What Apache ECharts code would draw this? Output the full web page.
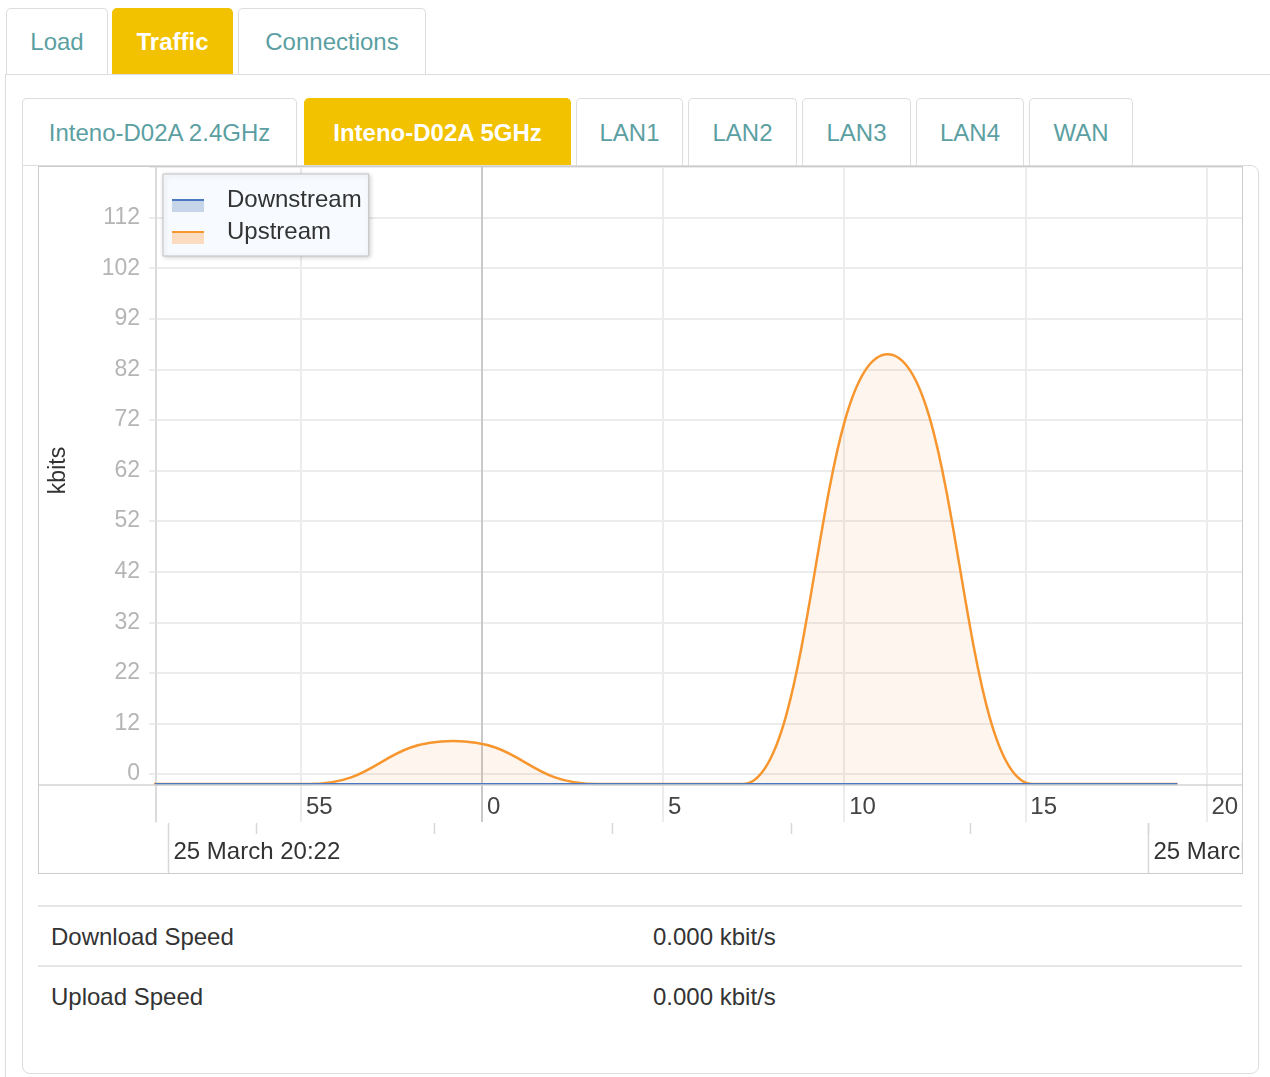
<!DOCTYPE html>
<html>
<head>
<meta charset="utf-8">
<title>Traffic</title>
<script src="https://cdn.jsdelivr.net/npm/echarts@6.0.0/dist/echarts.min.js"></script>
<style>
  body {
    margin: 0;
    width: 1270px;
    height: 1077px;
    position: relative;
    overflow: hidden;
    background: #fff;
    font-family: "Liberation Sans", Arial, Helvetica, sans-serif;
    color: #333;
  }
  .tab {
    position: absolute;
    box-sizing: border-box;
    border: 1px solid #dddddd;
    border-bottom: none;
    border-radius: 5px 5px 0 0;
    background: #fff;
    color: #5b9fa2;
    font-size: 24px;
    text-align: center;
  }
  .tab.on {
    background: #f2c200;
    border-color: #f2c200;
    color: #fff;
    font-weight: bold;
  }
  .top { top: 8px; height: 66px; line-height: 66px; }
  .sub { top: 98px; height: 67px; line-height: 68px; }
  .hline { position: absolute; height: 0; border-top: 1px solid #dddddd; }
  .vline { position: absolute; width: 0; border-left: 1px solid #dddddd; }
  .panel {
    position: absolute;
    left: 22px; top: 165px;
    width: 1235px; height: 907px;
    border: 1px solid #dddddd;
    border-radius: 0 8px 8px 8px;
  }
  .chartbox {
    position: absolute;
    left: 38px; top: 166px;
    width: 1203px; height: 706px;
    border: 1px solid #cccccc;
    background: #fff;
  }
  #main { width: 1203px; height: 706px; }
  .row {
    position: absolute;
    left: 51px;
    font-size: 24px;
    color: #333;
  }
  .val { position: absolute; left: 653px; font-size: 24px; color: #333; }
  .sep { position: absolute; left: 38px; width: 1204px; height: 0; border-top: 2px solid #e6e6e6; }
</style>
</head>
<body>
  <div class="hline" style="left:5px; top:74px; width:1265px;"></div>
  <div class="vline" style="left:5px; top:74px; height:1003px;"></div>
  <div class="tab top" style="left:6px; width:102px;">Load</div>
  <div class="tab top on" style="left:112px; width:121px;">Traffic</div>
  <div class="tab top" style="left:238px; width:188px;">Connections</div>

  <div class="panel"></div>
  <div class="tab sub" style="left:22px; width:275px;">Inteno-D02A 2.4GHz</div>
  <div class="tab sub on" style="left:304px; width:267px;">Inteno-D02A 5GHz</div>
  <div class="tab sub" style="left:576px; width:107px;">LAN1</div>
  <div class="tab sub" style="left:688px; width:109px;">LAN2</div>
  <div class="tab sub" style="left:802px; width:109px;">LAN3</div>
  <div class="tab sub" style="left:916px; width:108px;">LAN4</div>
  <div class="tab sub" style="left:1029px; width:104px;">WAN</div>

  <div class="chartbox"><div id="main"></div></div>

  <div class="sep" style="top:905px;"></div>
  <div class="row" style="top:923px;">Download Speed</div>
  <div class="val" style="top:923px;">0.000 kbit/s</div>
  <div class="sep" style="top:965px;"></div>
  <div class="row" style="top:983px;">Upload Speed</div>
  <div class="val" style="top:983px;">0.000 kbit/s</div>

<script>
// samples, in seconds after 20:21:00 (25 March)
const sampleSeconds = [47.2, 51.2, 55.2, 59.2, 63.2, 67.2, 71.2, 75.2, 79.2];
const downstream = [0, 0, 0, 0, 0, 0, 0, 0, 0];
const upstream = [0, 0, 0, 8.5, 0, 0, 85, 0, 0];
const viewSeconds = [51, 80.9];
const labelStepSeconds = 5;
const minuteMarkSeconds = 60;
const yTickLabels = ['0', '12', '22', '32', '42', '52', '62', '72', '82', '92', '102', '112'];
const secondRowTickSeconds = [53.75, 58.68, 63.6, 68.53, 73.46, 78.4];
const dateLabelSeconds = [51.33, 78.4];
const dateLabelTexts = ['25 March 20:22', '25 March 20:22'];

const FONT = '"Liberation Sans", Arial, Helvetica, sans-serif';

var chartDom = document.getElementById('main');
var myChart = echarts.init(chartDom);
var option;

// one split line per second, only every 5th one visible, the minute one darker
let xSplitColors = [];
for (let s = viewSeconds[0]; s <= Math.ceil(viewSeconds[1]); s++) {
  if (s % 60 === minuteMarkSeconds % 60) {
    xSplitColors.push('#c9c9c9');
  } else if (s % labelStepSeconds === 0) {
    xSplitColors.push('#ececec');
  } else {
    xSplitColors.push('rgba(0,0,0,0)');
  }
}

// legend icons: light fill in lower half, a line across the middle
const fillIcon = 'path://M0,0 M0,12 L32,12 L32,24 L0,24 Z';
const lineIcon = 'path://M32,24 M0,0 M0,11 L32,11 L32,13 L0,13 Z';

const legendBase = {
  orient: 'vertical',
  left: 124,
  top: 7,
  padding: [14, 7, 12, 9],
  itemWidth: 32,
  itemHeight: 24,
  itemGap: 8,
  selectedMode: false,
  textStyle: { fontSize: 24, fontFamily: FONT, color: '#333', padding: [0, 0, 0, 18] },
};

option = {
  animation: false,
  textStyle: { fontFamily: FONT },
  grid: [
    { left: 117, right: 0, top: 0, bottom: 51 },
    { left: 117, right: 0, top: 0, bottom: 99 },
  ],
  legend: [
    Object.assign({}, legendBase, {
      backgroundColor: '#f7faff',
      borderColor: '#c2c2c2',
      borderWidth: 1,
      shadowBlur: 5,
      shadowColor: 'rgba(0,0,0,0.18)',
      shadowOffsetX: 1,
      shadowOffsetY: 1,
      data: [
        { name: 'Downstream', icon: fillIcon, itemStyle: { color: '#c6d5ea', borderWidth: 0 } },
        { name: 'Upstream', icon: fillIcon, itemStyle: { color: '#fcdcc0', borderWidth: 0 } },
      ],
    }),
    Object.assign({}, legendBase, {
      textStyle: Object.assign({}, legendBase.textStyle, { color: 'rgba(0,0,0,0)' }),
      data: [
        { name: 'Downstream', icon: lineIcon, itemStyle: { color: '#4a78c2', borderWidth: 0 } },
        { name: 'Upstream', icon: lineIcon, itemStyle: { color: '#f7962f', borderWidth: 0 } },
      ],
    }),
  ],
  xAxis: [
    {
      type: 'value',
      gridIndex: 0,
      min: viewSeconds[0],
      max: viewSeconds[1],
      interval: 1,
      axisLine: { show: false },
      axisTick: { show: false },
      splitLine: { show: true, lineStyle: { color: xSplitColors, width: 2 } },
      axisLabel: {
        show: true,
        inside: true,
        align: 'left',
        padding: [0, 0, 0, 5],
        margin: 3,
        fontSize: 24,
        color: '#444',
        formatter: (v) => (v % labelStepSeconds === 0 ? String(v % 60) : ''),
      },
    },
    { type: 'value', gridIndex: 1, show: false, min: 0, max: 1 },
  ],
  yAxis: [
    {
      type: 'value',
      gridIndex: 0,
      min: -7.5,
      max: 122,
      axisLine: { show: true, lineStyle: { color: '#cfcfcf', width: 1.5 } },
      axisTick: { show: false },
      axisLabel: { show: false },
      splitLine: { show: false },
    },
    {
      type: 'value',
      gridIndex: 1,
      min: 0,
      max: 120,
      interval: 10,
      name: 'kbits',
      nameLocation: 'middle',
      nameRotate: 90,
      nameGap: 86,
      nameTextStyle: { fontSize: 23, color: '#333', fontFamily: FONT, padding: [0, 0, 0, 0] },
      axisLine: { show: false },
      axisTick: { show: true, length: 7, lineStyle: { color: '#e6e6e6', width: 1.5 } },
      splitLine: { show: true, lineStyle: { color: '#ececec', width: 2 } },
      axisLabel: {
        margin: 16,
        fontSize: 23,
        color: '#b5b5b5',
        padding: [3, 0, 0, 0],
        formatter: (v) => yTickLabels[Math.round(v / 10)] || '',
      },
    },
  ],
  series: [
    {
      name: 'Upstream',
      type: 'line',
      xAxisIndex: 0,
      yAxisIndex: 0,
      data: sampleSeconds.map((s, i) => [s, upstream[i]]),
      smooth: 0.5,
      smoothMonotone: 'x',
      showSymbol: false,
      symbol: 'none',
      color: '#f7962f',
      lineStyle: { color: '#f7962f', width: 2.5 },
      areaStyle: { color: 'rgba(248,160,70,0.13)' },
      emphasis: { disabled: true },
      z: 3,
    },
    {
      name: 'Downstream',
      type: 'line',
      xAxisIndex: 0,
      yAxisIndex: 0,
      data: sampleSeconds.map((s, i) => [s, downstream[i]]),
      smooth: 0.5,
      smoothMonotone: 'x',
      showSymbol: false,
      symbol: 'none',
      color: '#4a78c2',
      lineStyle: { color: '#4a78c2', width: 2 },
      emphasis: { disabled: true },
      z: 4,
    },
  ],
};

option && myChart.setOption(option);

// x axis line across the whole box, and the date row under it
const toX = (s) => myChart.convertToPixel({ xAxisIndex: 0 }, s);
const axisY = 706 - 88;
const graphics = [
  { type: 'line', shape: { x1: 0, y1: axisY, x2: 1203, y2: axisY }, style: { stroke: '#d3d3d3', lineWidth: 1.5 }, z: 10 },
];
secondRowTickSeconds.forEach((s) => {
  const x = Math.round(toX(s)) + 0.5;
  graphics.push({ type: 'line', shape: { x1: x, y1: axisY + 38, x2: x, y2: axisY + 49 }, style: { stroke: '#d8d8d8', lineWidth: 1.5 } });
});
dateLabelSeconds.forEach((s, i) => {
  const x = Math.round(toX(s)) + 0.5;
  graphics.push({ type: 'line', shape: { x1: x, y1: axisY + 38, x2: x, y2: 706 }, style: { stroke: '#d8d8d8', lineWidth: 1.5 } });
  graphics.push({
    type: 'text',
    x: x + 5,
    y: axisY + 67,
    style: { text: dateLabelTexts[i], fill: '#333', fontSize: 24, fontFamily: FONT, verticalAlign: 'middle' },
  });
});
myChart.setOption({ graphic: graphics });
</script>
</body>
</html>
